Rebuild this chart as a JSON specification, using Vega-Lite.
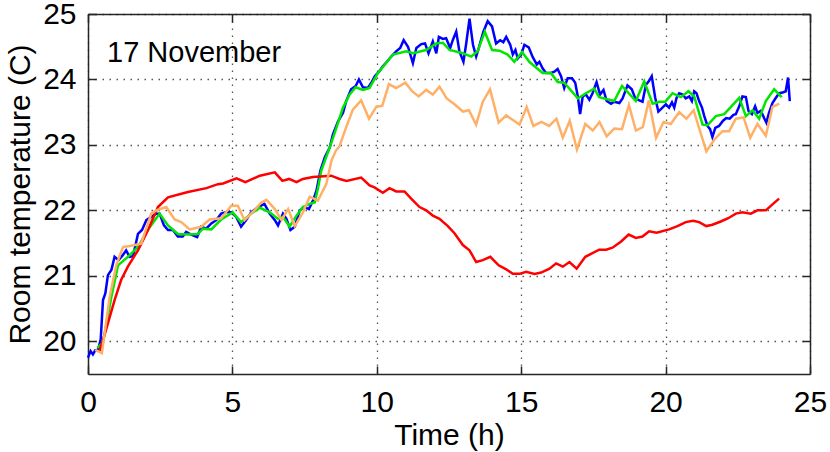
{
  "$schema": "https://vega.github.io/schema/vega-lite/v6.json",
  "width": 722,
  "height": 360,
  "autosize": {"type": "none"},
  "padding": {"left": 88, "top": 14, "right": 20, "bottom": 78},
  "background": "white",
  "config": {"view": {"stroke": null}, "font": "Liberation Sans"},
  "datasets": {
    "blue": [
      {"h":0.0,"temp":19.75},{"h":0.09,"temp":19.85},{"h":0.17,"temp":19.80},{"h":0.25,"temp":19.86},{"h":0.35,"temp":19.87},{"h":0.44,"temp":20.03},{"h":0.52,"temp":20.63},{"h":0.60,"temp":20.73},{"h":0.69,"temp":21.01},{"h":0.81,"temp":21.09},{"h":0.92,"temp":21.29},{"h":1.06,"temp":21.24},{"h":1.21,"temp":21.32},{"h":1.32,"temp":21.39},{"h":1.44,"temp":21.29},{"h":1.56,"temp":21.30},{"h":1.73,"temp":21.64},{"h":1.87,"temp":21.70},{"h":2.02,"temp":21.85},{"h":2.19,"temp":21.90},{"h":2.36,"temp":21.95},{"h":2.48,"temp":21.95},{"h":2.63,"temp":21.77},{"h":2.77,"temp":21.70},{"h":2.94,"temp":21.70},{"h":3.11,"temp":21.60},{"h":3.28,"temp":21.60},{"h":3.40,"temp":21.67},{"h":3.57,"temp":21.63},{"h":3.78,"temp":21.59},{"h":3.92,"temp":21.75},{"h":4.09,"temp":21.72},{"h":4.27,"temp":21.80},{"h":4.44,"temp":21.85},{"h":4.61,"temp":21.95},{"h":4.78,"temp":21.97},{"h":4.96,"temp":21.97},{"h":5.13,"temp":21.90},{"h":5.30,"temp":21.75},{"h":5.47,"temp":21.85},{"h":5.65,"temp":21.97},{"h":5.89,"temp":22.05},{"h":6.11,"temp":22.10},{"h":6.29,"temp":21.95},{"h":6.47,"temp":21.85},{"h":6.58,"temp":21.77},{"h":6.75,"temp":21.95},{"h":6.87,"temp":21.87},{"h":7.01,"temp":21.70},{"h":7.16,"temp":21.75},{"h":7.33,"temp":22.00},{"h":7.50,"temp":22.05},{"h":7.65,"temp":22.02},{"h":7.79,"temp":22.15},{"h":7.91,"temp":22.30},{"h":8.05,"temp":22.61},{"h":8.20,"temp":22.81},{"h":8.31,"temp":22.91},{"h":8.37,"temp":22.96},{"h":8.48,"temp":23.16},{"h":8.66,"temp":23.36},{"h":8.83,"temp":23.49},{"h":8.94,"temp":23.67},{"h":9.11,"temp":23.85},{"h":9.27,"temp":23.90},{"h":9.38,"temp":24.00},{"h":9.52,"temp":23.88},{"h":9.69,"temp":23.87},{"h":9.81,"temp":23.95},{"h":9.93,"temp":24.05},{"h":10.08,"temp":24.12},{"h":10.21,"temp":24.20},{"h":10.35,"temp":24.27},{"h":10.50,"temp":24.35},{"h":10.67,"temp":24.43},{"h":10.81,"temp":24.48},{"h":10.93,"temp":24.60},{"h":11.08,"temp":24.50},{"h":11.25,"temp":24.25},{"h":11.37,"temp":24.48},{"h":11.54,"temp":24.54},{"h":11.67,"temp":24.55},{"h":11.79,"temp":24.40},{"h":11.94,"temp":24.58},{"h":12.06,"temp":24.40},{"h":12.15,"temp":24.65},{"h":12.29,"temp":24.62},{"h":12.40,"temp":24.63},{"h":12.54,"temp":24.48},{"h":12.63,"temp":24.60},{"h":12.75,"temp":24.73},{"h":12.86,"temp":24.43},{"h":13.00,"temp":24.27},{"h":13.09,"temp":24.53},{"h":13.21,"temp":24.93},{"h":13.33,"temp":24.53},{"h":13.44,"temp":24.35},{"h":13.53,"temp":24.48},{"h":13.69,"temp":24.73},{"h":13.84,"temp":24.89},{"h":13.99,"temp":24.81},{"h":14.13,"temp":24.55},{"h":14.27,"temp":24.60},{"h":14.38,"temp":24.57},{"h":14.48,"temp":24.65},{"h":14.62,"temp":24.53},{"h":14.71,"temp":24.38},{"h":14.80,"temp":24.45},{"h":14.88,"temp":24.32},{"h":15.00,"temp":24.38},{"h":15.11,"temp":24.53},{"h":15.26,"temp":24.49},{"h":15.40,"temp":24.34},{"h":15.54,"temp":24.23},{"h":15.63,"temp":24.27},{"h":15.74,"temp":24.17},{"h":15.86,"temp":24.10},{"h":16.03,"temp":24.10},{"h":16.15,"temp":24.12},{"h":16.26,"temp":24.16},{"h":16.38,"temp":24.05},{"h":16.49,"temp":23.87},{"h":16.61,"temp":24.02},{"h":16.76,"temp":24.02},{"h":16.87,"temp":23.95},{"h":16.96,"temp":23.74},{"h":17.04,"temp":23.47},{"h":17.13,"temp":23.74},{"h":17.24,"temp":23.77},{"h":17.36,"temp":23.69},{"h":17.47,"temp":23.79},{"h":17.61,"temp":23.96},{"h":17.73,"temp":23.77},{"h":17.85,"temp":23.84},{"h":17.96,"temp":23.67},{"h":18.11,"temp":23.63},{"h":18.22,"temp":23.66},{"h":18.40,"temp":23.64},{"h":18.51,"temp":23.71},{"h":18.68,"temp":23.91},{"h":18.83,"temp":23.85},{"h":18.95,"temp":23.71},{"h":19.09,"temp":23.68},{"h":19.20,"temp":23.66},{"h":19.32,"temp":23.92},{"h":19.43,"temp":23.98},{"h":19.52,"temp":24.05},{"h":19.64,"temp":23.72},{"h":19.75,"temp":23.51},{"h":19.89,"temp":23.57},{"h":20.01,"temp":23.62},{"h":20.12,"temp":23.57},{"h":20.22,"temp":23.65},{"h":20.30,"temp":23.57},{"h":20.38,"temp":23.72},{"h":20.47,"temp":23.79},{"h":20.59,"temp":23.77},{"h":20.70,"temp":23.71},{"h":20.82,"temp":23.74},{"h":20.91,"temp":23.67},{"h":20.99,"temp":23.82},{"h":21.07,"temp":23.79},{"h":21.16,"temp":23.67},{"h":21.26,"temp":23.57},{"h":21.34,"temp":23.44},{"h":21.45,"temp":23.29},{"h":21.54,"temp":23.24},{"h":21.62,"temp":23.12},{"h":21.72,"temp":23.26},{"h":21.85,"temp":23.29},{"h":21.99,"temp":23.37},{"h":22.10,"temp":23.41},{"h":22.22,"temp":23.40},{"h":22.35,"temp":23.46},{"h":22.43,"temp":23.47},{"h":22.55,"temp":23.59},{"h":22.66,"temp":23.74},{"h":22.78,"temp":23.73},{"h":22.87,"temp":23.52},{"h":22.99,"temp":23.47},{"h":23.10,"temp":23.59},{"h":23.18,"temp":23.49},{"h":23.30,"temp":23.52},{"h":23.41,"temp":23.41},{"h":23.49,"temp":23.34},{"h":23.58,"temp":23.49},{"h":23.70,"temp":23.64},{"h":23.82,"temp":23.72},{"h":23.93,"temp":23.79},{"h":24.05,"temp":23.80},{"h":24.16,"temp":23.82},{"h":24.24,"temp":24.03},{"h":24.30,"temp":23.67}
    ],
    "green": [
      {"h":0.32,"temp":19.90},{"h":0.52,"temp":19.98},{"h":0.81,"temp":20.68},{"h":1.04,"temp":21.16},{"h":1.38,"temp":21.29},{"h":1.73,"temp":21.44},{"h":2.07,"temp":21.70},{"h":2.48,"temp":21.95},{"h":2.77,"temp":21.77},{"h":3.11,"temp":21.64},{"h":3.46,"temp":21.63},{"h":3.80,"temp":21.64},{"h":3.98,"temp":21.72},{"h":4.27,"temp":21.71},{"h":4.61,"temp":21.86},{"h":5.01,"temp":21.97},{"h":5.30,"temp":21.82},{"h":5.65,"temp":21.95},{"h":5.95,"temp":22.04},{"h":6.29,"temp":21.97},{"h":6.58,"temp":21.87},{"h":6.75,"temp":21.90},{"h":6.98,"temp":21.75},{"h":7.22,"temp":21.92},{"h":7.44,"temp":22.05},{"h":7.68,"temp":22.10},{"h":7.85,"temp":22.12},{"h":7.96,"temp":22.33},{"h":8.08,"temp":22.61},{"h":8.26,"temp":22.83},{"h":8.37,"temp":22.96},{"h":8.60,"temp":23.26},{"h":8.83,"temp":23.57},{"h":9.06,"temp":23.77},{"h":9.27,"temp":23.88},{"h":9.52,"temp":23.84},{"h":9.75,"temp":23.87},{"h":10.04,"temp":24.10},{"h":10.56,"temp":24.38},{"h":11.02,"temp":24.43},{"h":11.25,"temp":24.40},{"h":11.71,"temp":24.45},{"h":12.06,"temp":24.55},{"h":12.29,"temp":24.56},{"h":12.52,"temp":24.45},{"h":12.98,"temp":24.40},{"h":13.27,"temp":24.35},{"h":13.49,"temp":24.43},{"h":13.74,"temp":24.73},{"h":13.99,"temp":24.45},{"h":14.25,"temp":24.44},{"h":14.53,"temp":24.38},{"h":14.76,"temp":24.27},{"h":15.03,"temp":24.42},{"h":15.28,"temp":24.27},{"h":15.74,"temp":24.10},{"h":16.03,"temp":24.10},{"h":16.26,"temp":23.96},{"h":16.49,"temp":23.95},{"h":16.96,"temp":23.71},{"h":17.24,"temp":23.79},{"h":17.53,"temp":23.86},{"h":17.70,"temp":23.73},{"h":18.22,"temp":23.67},{"h":18.49,"temp":23.90},{"h":18.97,"temp":23.67},{"h":19.26,"temp":23.97},{"h":19.55,"temp":23.63},{"h":19.78,"temp":23.66},{"h":19.99,"temp":23.66},{"h":20.24,"temp":23.79},{"h":20.53,"temp":23.73},{"h":20.79,"temp":23.82},{"h":20.99,"temp":23.74},{"h":21.28,"temp":23.31},{"h":21.45,"temp":23.30},{"h":21.74,"temp":23.44},{"h":22.03,"temp":23.47},{"h":22.55,"temp":23.72},{"h":22.78,"temp":23.44},{"h":23.01,"temp":23.53},{"h":23.24,"temp":23.40},{"h":23.47,"temp":23.67},{"h":23.76,"temp":23.85},{"h":24.02,"temp":23.73}
    ],
    "orange": [
      {"h":0.25,"temp":19.87},{"h":0.48,"temp":19.82},{"h":0.75,"temp":20.68},{"h":0.98,"temp":21.16},{"h":1.21,"temp":21.44},{"h":1.50,"temp":21.46},{"h":1.84,"temp":21.49},{"h":2.19,"temp":21.95},{"h":2.36,"temp":22.00},{"h":2.71,"temp":22.05},{"h":3.00,"temp":21.86},{"h":3.23,"temp":21.82},{"h":3.52,"temp":21.71},{"h":3.92,"temp":21.75},{"h":4.21,"temp":21.86},{"h":4.61,"temp":21.88},{"h":4.96,"temp":22.07},{"h":5.19,"temp":22.07},{"h":5.42,"temp":21.85},{"h":5.76,"temp":22.00},{"h":6.00,"temp":22.12},{"h":6.18,"temp":22.16},{"h":6.47,"temp":22.02},{"h":6.70,"temp":21.85},{"h":6.93,"temp":22.02},{"h":7.16,"temp":21.76},{"h":7.44,"temp":21.97},{"h":7.68,"temp":22.21},{"h":7.96,"temp":22.15},{"h":8.25,"temp":22.40},{"h":8.43,"temp":22.76},{"h":8.58,"temp":22.91},{"h":8.71,"temp":22.98},{"h":8.89,"temp":23.21},{"h":9.17,"temp":23.54},{"h":9.46,"temp":23.68},{"h":9.73,"temp":23.40},{"h":9.98,"temp":23.58},{"h":10.19,"temp":23.60},{"h":10.42,"temp":23.93},{"h":10.67,"temp":23.87},{"h":10.99,"temp":23.95},{"h":11.22,"temp":23.82},{"h":11.45,"temp":23.74},{"h":11.71,"temp":23.84},{"h":11.94,"temp":23.77},{"h":12.17,"temp":23.89},{"h":12.42,"temp":23.71},{"h":12.69,"temp":23.62},{"h":12.98,"temp":23.51},{"h":13.19,"temp":23.53},{"h":13.44,"temp":23.31},{"h":13.67,"temp":23.66},{"h":13.92,"temp":23.85},{"h":14.22,"temp":23.34},{"h":14.48,"temp":23.45},{"h":14.71,"temp":23.38},{"h":14.94,"temp":23.31},{"h":15.19,"temp":23.58},{"h":15.42,"temp":23.29},{"h":15.70,"temp":23.35},{"h":15.97,"temp":23.29},{"h":16.22,"temp":23.40},{"h":16.44,"temp":23.11},{"h":16.68,"temp":23.37},{"h":16.93,"temp":22.93},{"h":17.22,"temp":23.32},{"h":17.48,"temp":23.22},{"h":17.71,"temp":23.35},{"h":17.96,"temp":23.13},{"h":18.22,"temp":23.25},{"h":18.49,"temp":23.24},{"h":18.73,"temp":23.61},{"h":18.97,"temp":23.22},{"h":19.21,"temp":23.27},{"h":19.42,"temp":23.68},{"h":19.67,"temp":23.11},{"h":19.93,"temp":23.35},{"h":20.18,"temp":23.32},{"h":20.47,"temp":23.50},{"h":20.72,"temp":23.40},{"h":20.97,"temp":23.53},{"h":21.41,"temp":22.90},{"h":21.70,"temp":23.09},{"h":21.97,"temp":23.21},{"h":22.20,"temp":23.21},{"h":22.43,"temp":23.40},{"h":22.70,"temp":23.42},{"h":22.93,"temp":23.11},{"h":23.18,"temp":23.32},{"h":23.47,"temp":23.14},{"h":23.70,"temp":23.58},{"h":23.94,"temp":23.63}
    ],
    "red": [
      {"h":0.40,"temp":19.85},{"h":0.63,"temp":20.18},{"h":0.92,"temp":20.63},{"h":1.15,"temp":20.94},{"h":1.38,"temp":21.14},{"h":1.73,"temp":21.39},{"h":2.08,"temp":21.70},{"h":2.42,"temp":22.05},{"h":2.77,"temp":22.20},{"h":3.46,"temp":22.28},{"h":4.10,"temp":22.34},{"h":4.50,"temp":22.40},{"h":4.68,"temp":22.41},{"h":5.14,"temp":22.49},{"h":5.45,"temp":22.43},{"h":5.95,"temp":22.53},{"h":6.47,"temp":22.58},{"h":6.73,"temp":22.45},{"h":6.96,"temp":22.48},{"h":7.22,"temp":22.43},{"h":7.44,"temp":22.48},{"h":7.79,"temp":22.51},{"h":8.42,"temp":22.53},{"h":8.71,"temp":22.48},{"h":8.95,"temp":22.45},{"h":9.46,"temp":22.50},{"h":9.75,"temp":22.38},{"h":9.92,"temp":22.35},{"h":10.21,"temp":22.27},{"h":10.44,"temp":22.34},{"h":10.67,"temp":22.29},{"h":10.96,"temp":22.29},{"h":11.19,"temp":22.18},{"h":11.48,"temp":22.05},{"h":11.71,"temp":22.00},{"h":11.94,"temp":21.92},{"h":12.17,"temp":21.87},{"h":12.46,"temp":21.76},{"h":12.69,"temp":21.65},{"h":12.98,"temp":21.47},{"h":13.21,"temp":21.39},{"h":13.44,"temp":21.21},{"h":13.67,"temp":21.24},{"h":13.93,"temp":21.29},{"h":14.22,"temp":21.16},{"h":14.48,"temp":21.10},{"h":14.71,"temp":21.03},{"h":14.94,"temp":21.03},{"h":15.17,"temp":21.06},{"h":15.46,"temp":21.03},{"h":15.69,"temp":21.05},{"h":15.98,"temp":21.11},{"h":16.21,"temp":21.19},{"h":16.44,"temp":21.14},{"h":16.67,"temp":21.21},{"h":16.92,"temp":21.11},{"h":17.22,"temp":21.29},{"h":17.70,"temp":21.40},{"h":17.94,"temp":21.40},{"h":18.16,"temp":21.43},{"h":18.45,"temp":21.52},{"h":18.72,"temp":21.63},{"h":18.97,"temp":21.58},{"h":19.20,"temp":21.60},{"h":19.43,"temp":21.68},{"h":19.69,"temp":21.66},{"h":20.12,"temp":21.71},{"h":20.41,"temp":21.76},{"h":20.70,"temp":21.82},{"h":20.95,"temp":21.84},{"h":21.16,"temp":21.82},{"h":21.41,"temp":21.76},{"h":21.62,"temp":21.78},{"h":21.91,"temp":21.83},{"h":22.17,"temp":21.88},{"h":22.43,"temp":21.95},{"h":22.66,"temp":21.97},{"h":22.95,"temp":21.95},{"h":23.18,"temp":22.00},{"h":23.47,"temp":22.00},{"h":23.72,"temp":22.10},{"h":23.93,"temp":22.18}
    ],
    "note": [{"label": "17 November"}]
  },
  "layer": [
    {
      "data": {"name": "blue"},
      "mark": {"type": "line", "color": "#0000ff", "strokeWidth": 2.5},
      "encoding": {
        "x": {"field": "h", "type": "quantitative", "scale": {"domain": [0, 25], "nice": false, "zero": false},
          "axis": {"orient": "bottom", "values": [0, 5, 10, 15, 20, 25], "title": "Time (h)", "grid": true, "gridDash": [1.5, 5.5], "gridColor": "#555", "gridWidth": 1.3,
            "tickSize": -8, "tickColor": "#262626", "tickWidth": 1.5, "domainColor": "#262626", "domainWidth": 1.5,
            "labelFontSize": 30, "labelColor": "black", "labelPadding": 21, "labelFlush": false, "labelFont": "Liberation Sans",
            "titleFontSize": 30, "titleFontWeight": "normal", "titleColor": "black", "titlePadding": 3, "titleFont": "Liberation Sans"}},
        "y": {"field": "temp", "type": "quantitative", "scale": {"domain": [19.5, 25], "nice": false, "zero": false},
          "axis": {"orient": "left", "values": [20, 21, 22, 23, 24, 25], "title": "Room temperature (C)", "grid": true, "gridDash": [1.5, 5.5], "gridColor": "#555", "gridWidth": 1.3,
            "tickSize": -8, "tickColor": "#262626", "tickWidth": 1.5, "domainColor": "#262626", "domainWidth": 1.5,
            "labelFontSize": 30, "labelColor": "black", "labelPadding": 20, "labelFlush": false, "labelFont": "Liberation Sans",
            "titleFontSize": 30, "titleFontWeight": "normal", "titleColor": "black", "titlePadding": 7, "titleFont": "Liberation Sans"}}
      }
    },
    {
      "data": {"name": "green"},
      "mark": {"type": "line", "color": "#00e600", "strokeWidth": 2.5},
      "encoding": {
        "x": {"field": "h", "type": "quantitative", "scale": {"domain": [0, 25], "nice": false, "zero": false},
          "axis": {"orient": "top", "values": [0, 5, 10, 15, 20, 25], "title": null, "labels": false, "grid": false,
            "tickSize": -8, "tickColor": "#262626", "tickWidth": 1.5, "domainColor": "#262626", "domainWidth": 1.5}},
        "y": {"field": "temp", "type": "quantitative", "scale": {"domain": [19.5, 25], "nice": false, "zero": false},
          "axis": {"orient": "right", "values": [20, 21, 22, 23, 24, 25], "title": null, "labels": false, "grid": false,
            "tickSize": -8, "tickColor": "#262626", "tickWidth": 1.5, "domainColor": "#262626", "domainWidth": 1.5}}
      }
    },
    {
      "data": {"name": "red"},
      "mark": {"type": "line", "color": "#ff0000", "strokeWidth": 2.5},
      "encoding": {
        "x": {"field": "h", "type": "quantitative", "axis": null},
        "y": {"field": "temp", "type": "quantitative", "axis": null}
      }
    },
    {
      "data": {"name": "orange"},
      "mark": {"type": "line", "color": "#ffb066", "strokeWidth": 2.5},
      "encoding": {
        "x": {"field": "h", "type": "quantitative", "axis": null},
        "y": {"field": "temp", "type": "quantitative", "axis": null}
      }
    },
    {
      "data": {"name": "note"},
      "mark": {"type": "text", "align": "left", "baseline": "alphabetic", "fontSize": 29, "font": "Liberation Sans", "color": "black"},
      "encoding": {
        "text": {"field": "label"},
        "x": {"datum": 0.66, "type": "quantitative", "axis": null},
        "y": {"datum": 24.27, "type": "quantitative", "axis": null}
      }
    }
  ],
  "resolve": {"axis": {"x": "independent", "y": "independent"}}
}
